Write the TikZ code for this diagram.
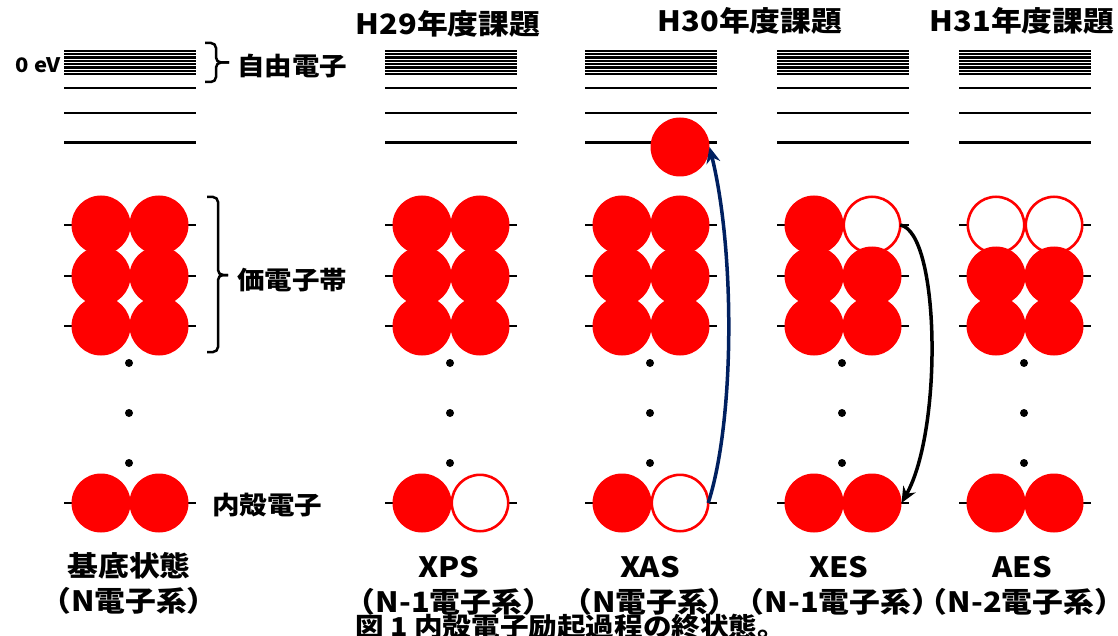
\documentclass[tikz,border=0pt]{standalone}
\usepackage{fontspec}
\newfontfamily\jp{Noto Sans CJK JP}[FakeStretch=1.1]
\usetikzlibrary{arrows.meta}
\definecolor{navy}{RGB}{0,32,96}
\definecolor{ered}{RGB}{255,0,0}
\tikzset{
  lvl/.style={line width=2.2pt},
  elec/.style={circle, fill=ered, minimum size=59pt, inner sep=0pt, outer sep=0pt},
  hole/.style={circle, draw=ered, fill=white, line width=2.6pt, minimum size=56.4pt, inner sep=0pt, outer sep=0pt},
  dotn/.style={circle, fill=black, minimum size=8pt, inner sep=0pt},
  brk/.style={line width=2.5pt, rounded corners=5pt},
  ttl/.style={font=\jp\bfseries\fontsize{28}{30}\selectfont, inner sep=0pt},
  lbl/.style={font=\jp\bfseries\fontsize{25}{28}\selectfont, inner sep=0pt},
  sml/.style={font=\jp\bfseries\fontsize{20}{22}\selectfont, inner sep=0pt},
  bot/.style={font=\jp\bfseries\fontsize{28}{32}\selectfont, inner sep=0pt},
  captxt/.style={font=\jp\bfseries\fontsize{26}{30}\selectfont, inner sep=0pt},
  tipstyle/.style={-{Stealth[length=16pt,width=14pt]}},
}
\begin{document}
\begin{tikzpicture}[x=1pt,y=-1pt]
\clip (0,0) rectangle (1118,636);
\fill[white] (0,0) rectangle (1118,636);
% energy levels and dots
\foreach \c/\x in {1/64,2/385,3/585,4/777,5/959}{
  \foreach \i in {0,...,7}{
    \draw[lvl] (\x,51+3.3*\i) -- (\x+132,51+3.3*\i);
  }
  \foreach \y in {88,113,142.5,225,276,326,503}{
    \draw[lvl] (\x,\y) -- (\x+132,\y);
  }
  \node[dotn] (d\c-1) at (\x+65,363) {};
  \node[dotn] (d\c-2) at (\x+65,413) {};
  \node[dotn] (d\c-3) at (\x+65,463) {};
}
% electrons and holes
\foreach \c/\x/\aL/\aR/\kL/\kR in {1/64/elec/elec/elec/elec,2/385/elec/elec/elec/hole,3/585/elec/elec/elec/hole,4/777/elec/hole/elec/elec,5/959/hole/hole/elec/elec}{
  \node[\aL] (v\c-a) at (\x+37,225) {};
  \node[\aR] (v\c-b) at (\x+95,225) {};
  \node[elec] (w\c-a) at (\x+37,276) {};
  \node[elec] (w\c-b) at (\x+95,276) {};
  \node[elec] (u\c-a) at (\x+37,326) {};
  \node[elec] (u\c-b) at (\x+95,326) {};
  \node[\kL] (k\c-a) at (\x+37,503) {};
  \node[\kR] (k\c-b) at (\x+95,503) {};
}
\node[elec] (ex) at (680,147) {};
% arrows
\draw[line width=3.5pt, draw=navy, tipstyle] (k3-b.east) .. controls (735,420) and (735,250) .. (ex.east);
\draw[line width=3.5pt, draw=black, tipstyle] (v4-b.east) .. controls (940,232) and (943,430) .. (k4-b.east);
% brackets
\draw[brk] (205,43) -- (216,43) -- (216,62.5) -- (229,62.5);
\draw[brk] (229,62.5) -- (216,62.5) -- (216,82) -- (205,82);
\draw[brk] (207,197) -- (218,197) -- (218,275) -- (228,275);
\draw[brk] (228,275) -- (218,275) -- (218,352) -- (207,352);
% labels
\node[sml, anchor=east] (zero) at (61,65) {0 eV};
\node[lbl, anchor=west] (free) at (237,66) {自由電子};
\node[lbl, anchor=west] (val) at (237,280) {価電子帯};
\node[lbl, anchor=west] (core) at (212,505) {内殻電子};
\node[ttl] (t29) at (448,24) {H29年度課題};
\node[ttl] (t30) at (750,21) {H30年度課題};
\node[ttl] (t31) at (1022,21) {H31年度課題};
\node[bot] (b1a) at (129,566) {基底状態};
\node[bot] (b1b) at (129,601) {（N電子系）};
\node[bot] (b2a) at (449,567) {XPS};
\node[bot] (b2b) at (449,602) {（N-1電子系）};
\node[bot] (b3a) at (650,567) {XAS};
\node[bot] (b3b) at (650,602) {（N電子系）};
\node[bot] (b4a) at (839,567) {XES};
\node[bot] (b4b) at (838,602) {（N-1電子系）};
\node[bot] (b5a) at (1022,567) {AES};
\node[bot] (b5b) at (1021,602) {（N-2電子系）};
\node[captxt, anchor=west] (caption) at (355,627) {図 1 内殻電子励起過程の終状態。};
\end{tikzpicture}
\end{document}
